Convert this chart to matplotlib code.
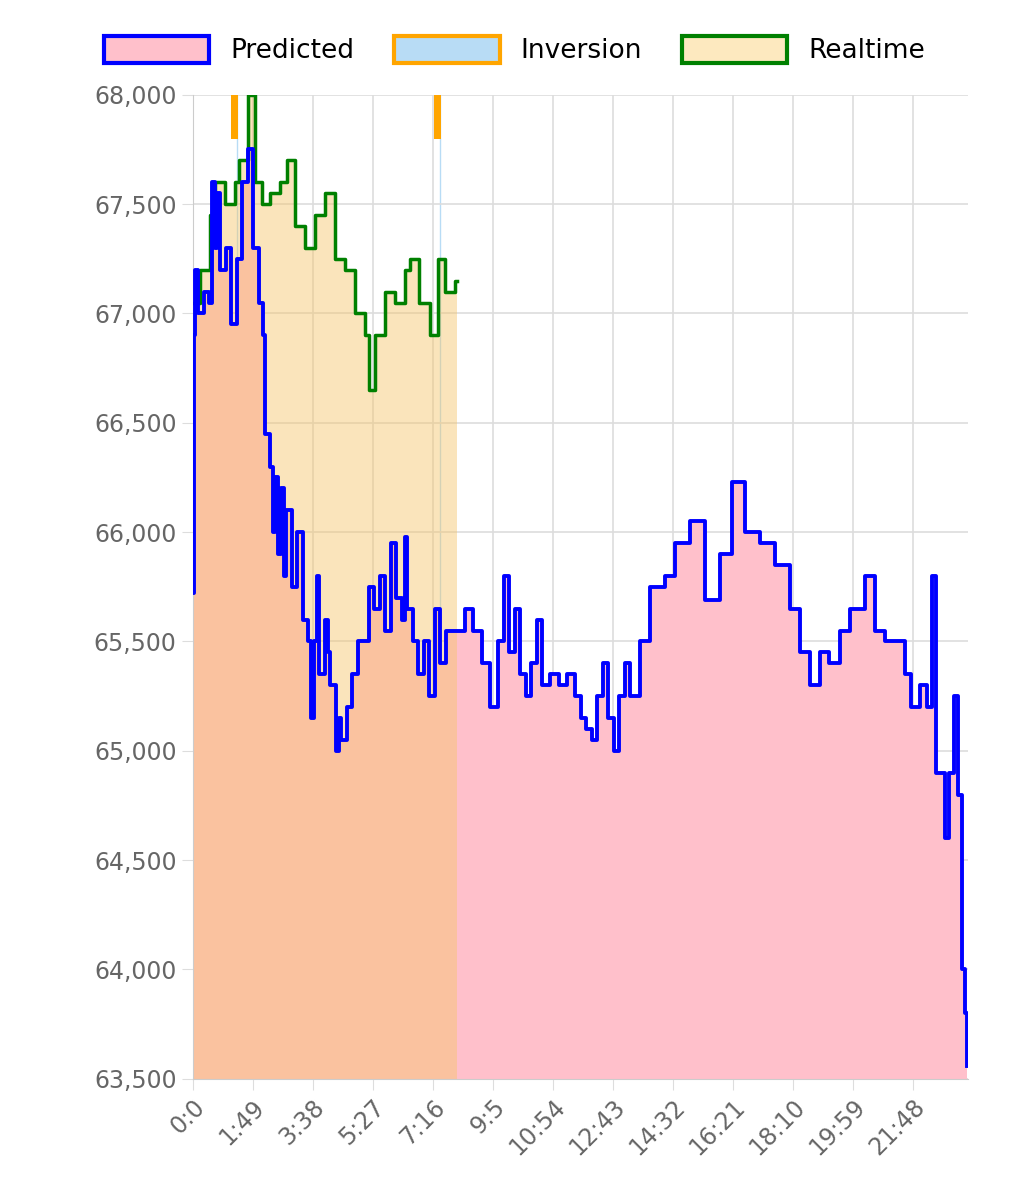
import matplotlib.pyplot as plt
from matplotlib.patches import Patch

# minutes since 0:00 -> price
pred_t = [0, 2, 5, 10, 20, 30, 35, 40, 45, 50, 60, 70, 80, 90, 100, 110, 120, 128, 132,
          140, 145, 150, 155, 160, 165, 170, 180, 190, 200, 210, 215, 220, 225, 230, 240,
          245, 250, 260, 265, 270, 280, 290, 300, 310, 320, 330, 340, 350, 360, 370, 380,
          385, 390, 400, 410, 420, 430, 440, 450, 460, 470, 480, 495, 510, 525, 540, 555,
          565, 575, 585, 595, 605, 615, 625, 635, 650, 665, 680, 695, 705, 715, 725, 735,
          745, 755, 765, 775, 785, 795, 812, 830, 858, 876, 903, 930, 958, 980, 1003,
          1030, 1058, 1085, 1103, 1121, 1139, 1157, 1176, 1194, 1221, 1239, 1257, 1290,
          1295, 1305, 1321, 1335, 1343, 1350, 1366, 1375, 1384, 1390, 1397, 1404, 1406]
pred_v = [65720, 66900, 67200, 67000, 67100, 67050, 67600, 67300, 67550, 67200, 67300,
          66950, 67250, 67600, 67750, 67300, 67050, 66900, 66450, 66300, 66000, 66250,
          65900, 66200, 65800, 66100, 65750, 66000, 65600, 65500, 65150, 65500, 65800,
          65350, 65600, 65450, 65300, 65000, 65150, 65050, 65200, 65350, 65500, 65500,
          65750, 65650, 65800, 65550, 65950, 65700, 65600, 65980, 65650, 65500, 65350,
          65500, 65250, 65650, 65400, 65550, 65550, 65550, 65650, 65550, 65400, 65200,
          65500, 65800, 65450, 65650, 65350, 65250, 65400, 65600, 65300, 65350, 65300,
          65350, 65250, 65150, 65100, 65050, 65250, 65400, 65150, 65000, 65250, 65400,
          65250, 65500, 65750, 65800, 65950, 66050, 65690, 65900, 66230, 66000, 65950,
          65850, 65650, 65450, 65300, 65450, 65400, 65550, 65650, 65800, 65550, 65500,
          65500, 65350, 65200, 65300, 65200, 65800, 64900, 64600, 64900, 65250, 64800,
          64000, 63800, 63560]

real_t = [0, 13, 31, 40, 58, 76, 85, 100, 113, 125, 140, 158, 171, 185, 204, 222, 240,
          258, 276, 294, 313, 320, 331, 349, 367, 385, 394, 412, 431, 445, 458, 476, 481]
real_v = [67050, 67200, 67450, 67600, 67500, 67600, 67700, 68000, 67600, 67500, 67550,
          67600, 67700, 67400, 67300, 67450, 67550, 67250, 67200, 67000, 66900, 66650,
          66900, 67100, 67050, 67200, 67250, 67050, 66900, 67250, 67100, 67150, 67150]

inv_t = [76, 445]
inv_top = 68000
inv_bottom = 67800

xticks = [0, 109, 218, 327, 436, 545, 654, 763, 872, 981, 1090, 1199, 1308]
ylo, yhi = 63500, 68000

fig = plt.figure(figsize=(10.09, 12), dpi=100)
ax = fig.add_axes([0.191, 0.101, 0.768, 0.82])

ax.fill_between(pred_t, pred_v, ylo, step='post', color='#ffc0cb', lw=0, zorder=1)
ax.fill_between(real_t, real_v, ylo, step='post', color='#f5c56a', alpha=0.45, lw=0, zorder=2)
ax.step(real_t, real_v, where='post', color='green', lw=2.5, zorder=3)
ax.step(pred_t, pred_v, where='post', color='blue', lw=2.8, zorder=4)
for t in inv_t:
    ax.bar(t, inv_top - inv_bottom, bottom=inv_bottom, width=12, color='orange', zorder=5)
    ax.axvline(t + 4, color='#b8dcf5', lw=1, zorder=0)

ax.set_xlim(0, 1408)
ax.set_ylim(ylo, yhi)
ax.set_yticks(range(63500, 68001, 500))
ax.set_yticklabels([f'{v:,}' for v in range(63500, 68001, 500)])
ax.set_xticks(xticks)
ax.set_xticklabels([f'{t // 60}:{t % 60}' for t in xticks], rotation=45, ha='right',
                   rotation_mode='anchor')
ax.tick_params(labelsize=17, colors='#666666', length=8, direction='out')
ax.tick_params(axis='y', color='#dddddd')
ax.tick_params(axis='x', color='#dddddd')
ax.grid(color='#dddddd', lw=1.2, zorder=0)
ax.set_axisbelow(True)
for s in ax.spines.values():
    s.set_visible(False)
ax.spines['left'].set_visible(True)
ax.spines['left'].set_color('#cccccc')
ax.spines['bottom'].set_visible(True)
ax.spines['bottom'].set_color('#cccccc')

handles = [Patch(facecolor='#ffc0cb', edgecolor='blue', lw=3, label='Predicted'),
           Patch(facecolor='#b8dcf5', edgecolor='orange', lw=3, label='Inversion'),
           Patch(facecolor='#fde9bf', edgecolor='green', lw=3, label='Realtime')]
fig.legend(handles=handles, loc='upper center', bbox_to_anchor=(0.51, 0.99), ncol=3,
           frameon=False, fontsize=19, handlelength=4, handleheight=1.2, columnspacing=1.5)

fig.savefig('out.png')
